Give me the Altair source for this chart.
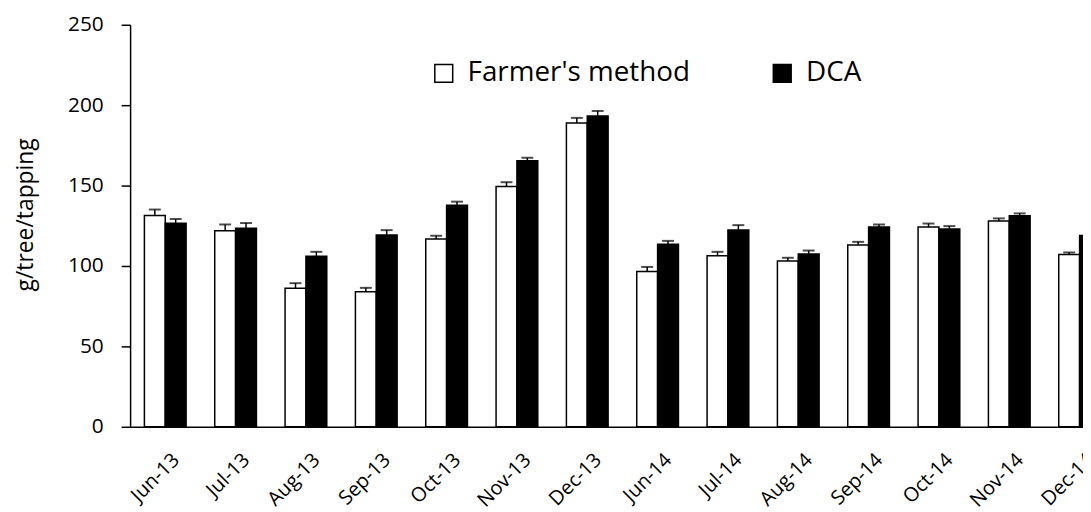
import altair as alt
import pandas as pd

months = ["Jun-13", "Jul-13", "Aug-13", "Sep-13", "Oct-13", "Nov-13", "Dec-13",
          "Jun-14", "Jul-14", "Aug-14", "Sep-14", "Oct-14", "Nov-14", "Dec-14"]
series_names = ["Farmer's method", "DCA"]
farmer = [131.4, 121.9, 86.2, 84.0, 116.8, 149.4, 188.9, 96.5, 106.3, 103.1, 113.1, 124.2, 128.0, 107.1]
farmer_err = [3.7, 3.9, 3.1, 2.4, 2.0, 2.7, 3.2, 2.9, 2.5, 2.0, 1.9, 2.2, 1.6, 1.3]
dca = [126.5, 123.4, 106.1, 119.3, 137.7, 165.5, 193.2, 113.5, 122.3, 107.4, 124.2, 123.0, 131.2, 119.0]
dca_err = [2.7, 3.3, 2.7, 3.0, 2.3, 1.8, 3.2, 2.1, 3.1, 2.2, 1.6, 1.8, 1.5, 2.0]
y_ticks = [0, 50, 100, 150, 200, 250]

rows = []
for i, m in enumerate(months):
    rows.append({"month": m, "series": series_names[0], "value": farmer[i], "upper": farmer[i] + farmer_err[i]})
    rows.append({"month": m, "series": series_names[1], "value": dca[i], "upper": dca[i] + dca_err[i]})
df = pd.DataFrame(rows)

FONT = "Open Sans"

x_enc = alt.X("month:N", sort=months,
              scale=alt.Scale(range=[0, 992], paddingInner=0.407, paddingOuter=0.2035),
              axis=alt.Axis(title=None, labelAngle=-45, labelFontSize=20, labelFont=FONT,
                            labelColor="black", ticks=False, tickSize=0, labelPadding=23,
                            labelOffset=4, labelLimit=200,
                            domainColor="black", domainWidth=1.5))
xo_enc = alt.XOffset("series:N", sort=series_names)
y_scale = alt.Scale(domain=[0, 250], nice=False)

bars = alt.Chart(df).mark_bar(stroke="black", strokeWidth=1.5).encode(
    x=x_enc,
    xOffset=xo_enc,
    y=alt.Y("value:Q", scale=y_scale,
            axis=alt.Axis(values=y_ticks, grid=False, tickSize=9, tickColor="black", tickWidth=1.5,
                          domainColor="black", domainWidth=1.5, labelFontSize=21, labelFont=FONT,
                          labelColor="black", labelPadding=18,
                          title="g/tree/tapping", titleFont=FONT, titleFontSize=23,
                          titleFontWeight="normal", titleColor="black",
                          titleX=-105, titleY=191, titleAngle=270,
                          titleAlign="center", titleBaseline="middle")),
    fill=alt.Fill("series:N", sort=series_names,
                  scale=alt.Scale(domain=series_names, range=["white", "black"]),
                  legend=alt.Legend(title=None, orient="none", legendX=302, legendY=35,
                                    direction="horizontal", symbolType="square", symbolSize=324,
                                    symbolStrokeColor="black", symbolStrokeWidth=1.5,
                                    labelFont=FONT, labelFontSize=28, labelColor="black",
                                    labelLimit=400, labelOffset=10, columnPadding=78)),
)

rules = alt.Chart(df).mark_rule(color="black", strokeWidth=1.5).encode(
    x=alt.X("month:N", sort=months),
    xOffset=xo_enc,
    y=alt.Y("value:Q", scale=y_scale),
    y2="upper:Q",
)

caps = alt.Chart(df).mark_tick(color="black", thickness=2, size=12).encode(
    x=alt.X("month:N", sort=months),
    xOffset=xo_enc,
    y=alt.Y("upper:Q", scale=y_scale),
)

chart = alt.layer(bars, rules, caps).properties(
    width=960, height=405,
    autosize=alt.AutoSizeParams(type="none"),
    padding={"left": 123, "top": 15, "right": 0, "bottom": 90},
).configure_view(stroke=None)

chart.save("out.html", embed_options={"renderer": "svg", "actions": False})
